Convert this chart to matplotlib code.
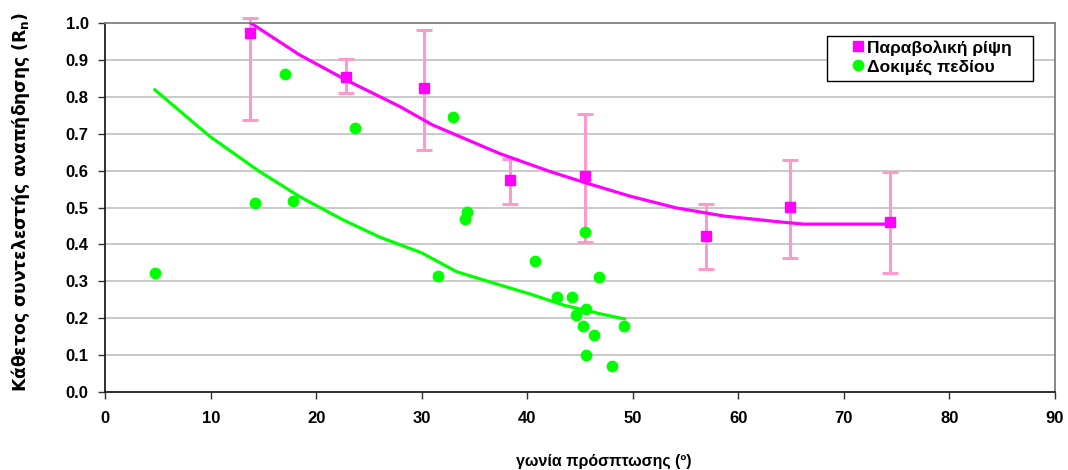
import matplotlib
matplotlib.use("Agg")
from matplotlib import pyplot as plt
from matplotlib.patches import Rectangle
import numpy as np

plt.rcParams['font.family'] = ['Liberation Sans', 'DejaVu Sans']
plt.rcParams['font.weight'] = 'bold'

# Parabolic throw (mean with error range)
para_x = [13.7, 22.8, 30.2, 38.4, 45.5, 56.9, 64.9, 74.4]
para_y = [0.973, 0.855, 0.823, 0.574, 0.585, 0.424, 0.501, 0.462]
para_hi = [1.013, 0.903, 0.980, 0.631, 0.753, 0.509, 0.630, 0.596]
para_lo = [0.738, 0.810, 0.655, 0.510, 0.407, 0.334, 0.363, 0.323]

# Field tests
field_x = [4.7, 14.2, 17.0, 17.8, 23.7, 31.5, 33.0, 34.1, 34.3, 40.7, 42.8,
           44.2, 44.6, 45.3, 45.5, 45.6, 45.6, 46.3, 46.8, 48.0, 49.2]
field_y = [0.322, 0.512, 0.861, 0.517, 0.715, 0.315, 0.745, 0.468, 0.489, 0.356, 0.258,
           0.258, 0.208, 0.179, 0.434, 0.224, 0.100, 0.154, 0.311, 0.071, 0.179]

# trend lines
para_trend_x = [13.8, 18.4, 22.8, 27.9, 31.0, 37.4, 42.1, 45.4, 49.7, 54.1, 58.6, 63.9, 66.2, 74.4]
para_trend_y = [1.0, 0.914, 0.846, 0.774, 0.724, 0.646, 0.598, 0.568, 0.531, 0.499, 0.477, 0.461, 0.455, 0.455]
field_trend_x = [4.7, 9.9, 14.6, 18.4, 22.5, 26.0, 30.0, 33.3, 36.7, 40.1, 43.5, 46.9, 49.2]
field_trend_y = [0.819, 0.693, 0.598, 0.530, 0.467, 0.420, 0.377, 0.326, 0.296, 0.267, 0.235, 0.212, 0.198]

MAG = '#ff00ff'
GRN = '#00ff00'

fig = plt.figure(figsize=(10.68, 4.70), dpi=100)
ax = fig.add_axes([0.0985, 0.166, 0.8893, 0.785])

for y in np.arange(0.1, 1.0, 0.1):
    ax.axhline(y, color='#c0c0c0', lw=1.2, zorder=0)

para_y = np.array(para_y)
yerr = [para_y - np.array(para_lo), np.array(para_hi) - para_y]
ax.errorbar(para_x, para_y, yerr=yerr, fmt='none', ecolor='#ff99cc', elinewidth=2.2,
            capsize=6, capthick=2.2, zorder=2, clip_on=False)
ax.plot(para_trend_x, para_trend_y, color=MAG, lw=2.3, zorder=3)
ax.plot(field_trend_x, field_trend_y, color=GRN, lw=2.3, zorder=3)
ax.plot(para_x, para_y, 's', color=MAG, ms=7.5, ls='none', zorder=4,
        label='Παραβολική ρίψη')
ax.plot(field_x, field_y, 'o', color=GRN, ms=7.5, ls='none', zorder=4,
        label='Δοκιμές πεδίου')

ax.set_xlim(0, 90)
ax.set_ylim(0, 1.0)
ax.set_xticks(range(0, 91, 10))
ax.set_yticks(np.arange(0, 1.01, 0.1))
ax.set_yticklabels(['%.1f' % v for v in np.arange(0, 1.01, 0.1)])
ax.tick_params(axis='both', labelsize=12, direction='out', length=5, width=1, color='#303030')
ax.tick_params(axis='x', pad=9)
ax.tick_params(axis='y', pad=7)

for s in ['left', 'bottom']:
    ax.spines[s].set_color('#202020')
    ax.spines[s].set_linewidth(1.3)
for s in ['top', 'right']:
    ax.spines[s].set_color('#808080')
    ax.spines[s].set_linewidth(1.3)

ax.set_xlabel('γωνία πρόσπτωσης (º)', fontsize=11.5, fontweight='bold')
ax.xaxis.set_label_coords(0.525, -0.167)
ax.set_ylabel('Κάθετος συντελεστής αναπήδησης (R$_\\mathbf{n}$)', fontsize=12.3,
              fontweight='bold', family=['DejaVu Sans'])
ax.yaxis.set_label_coords(-0.077, 0.514)

# legend box like the original (wide left margin)
fig.patches.append(Rectangle((826.7 / 1068, 1 - 81 / 470), 206.3 / 1068, 45 / 470,
                             transform=fig.transFigure, facecolor='white',
                             edgecolor='black', lw=1.0, zorder=5))
handles, labels = ax.get_legend_handles_labels()
leg = fig.legend(handles, labels, loc='upper left', bbox_to_anchor=(849.3 / 1068, 1 - 40 / 470),
                 bbox_transform=fig.transFigure, fontsize=12.5, frameon=False,
                 handlelength=1.0, handletextpad=0.0, borderpad=0.0,
                 labelspacing=0.22, borderaxespad=0.0)
leg.set_zorder(6)

fig.savefig('out.png', dpi=100)
